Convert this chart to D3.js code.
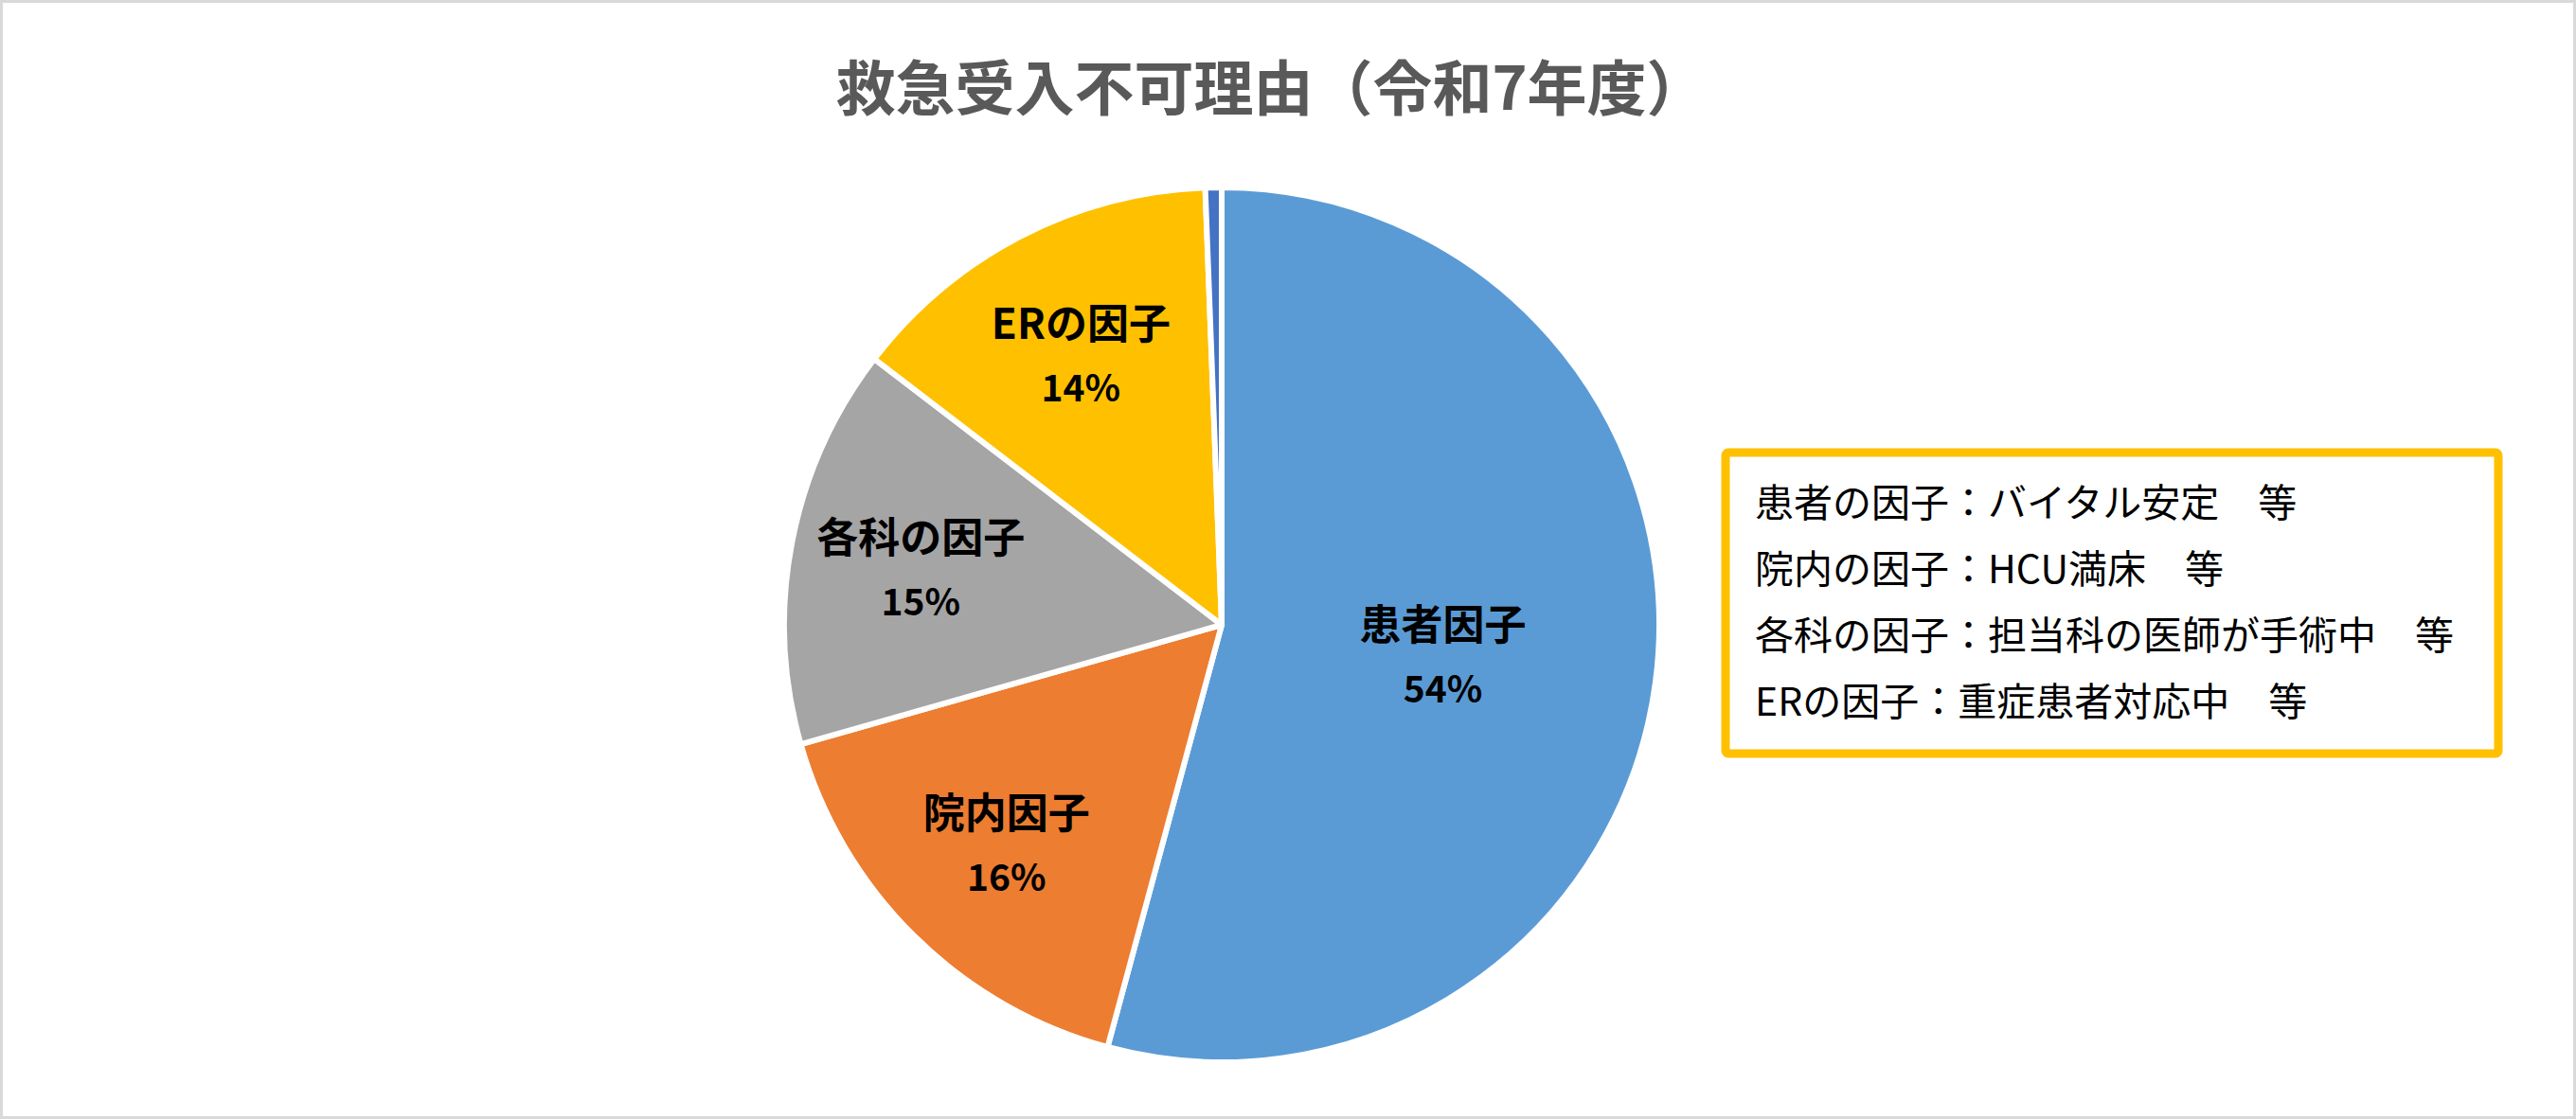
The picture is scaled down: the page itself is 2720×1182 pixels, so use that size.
<!DOCTYPE html>
<html>
<head>
<meta charset="utf-8">
<script src="https://cdn.jsdelivr.net/npm/d3@7"></script>
<style>
  html, body { margin: 0; padding: 0; background: #fff; }
  svg { display: block; }
  text { font-family: "Noto Sans CJK JP", "Noto Sans", sans-serif; }
</style>
</head>
<body>
<div class="chart"></div>
<script>
// 救急受入不可理由 (%)
const categories = ['患者因子', '院内因子', '各科の因子', 'ERの因子', 'その他']
const values = [54.2, 16.4, 14.8, 14.0, 0.6]
const colors = ['#5B9BD5', '#ED7D31', '#A5A5A5', '#FFC000', '#4472C4']
const notes = [
  '患者の因子：バイタル安定　等',
  '院内の因子：HCU満床　等',
  '各科の因子：担当科の医師が手術中　等',
  'ERの因子：重症患者対応中　等'
]
const title = '救急受入不可理由（令和7年度）'

const width = 2720
const height = 1182
const center = { x: 1290, y: 660 }
const radius = 462

const svg = d3.select('.chart')
  .append('svg')
  .attr('width', width)
  .attr('height', height)

// chart border
svg.append('rect')
  .attr('x', 1.5).attr('y', 1.5)
  .attr('width', width - 3).attr('height', height - 3)
  .attr('fill', '#fff')
  .attr('stroke', '#D9D9D9')
  .attr('stroke-width', 3)

svg.append('text')
  .text(title)
  .attr('x', 1342)
  .attr('y', 88)
  .attr('text-anchor', 'middle')
  .attr('dominant-baseline', 'central')
  .attr('font-size', 63)
  .attr('font-weight', 700)
  .attr('fill', '#595959')

const total = d3.sum(values)
const rows = categories.map((c, i) => ({ name: c, value: values[i], color: colors[i] }))

const pie = d3.pie().value((d) => d.value).sort(null)
const arc = d3.arc().innerRadius(0).outerRadius(radius)
const arcs = pie(rows)

const g = svg.append('g')
  .attr('transform', `translate(${center.x}, ${center.y})`)

g.selectAll('.slice')
  .data(arcs)
  .enter()
  .append('path')
  .attr('class', 'slice')
  .attr('d', arc)
  .attr('fill', (d) => d.data.color)
  .attr('stroke', '#fff')
  .attr('stroke-width', 6)
  .attr('stroke-linejoin', 'round')

// labels: the big slice sits closer to the center, like Excel's best fit
const labelArc = (d) => {
  const r = d.data.value > 50 ? radius * 0.51 : radius * 0.7
  return d3.arc().innerRadius(r).outerRadius(r).centroid(d)
}

const label = g.selectAll('.label')
  .data(arcs.filter((d) => d.data.value / total >= 0.05))
  .enter()
  .append('g')
  .attr('class', 'label')
  .attr('transform', (d) => `translate(${labelArc(d)})`)

label.append('text')
  .text((d) => d.data.name)
  .attr('y', -34)
  .attr('text-anchor', 'middle')
  .attr('dominant-baseline', 'central')
  .attr('font-size', 44)
  .attr('font-weight', 700)
  .attr('fill', '#000')

label.append('text')
  .text((d) => Math.round(d.data.value / total * 100) + '%')
  .attr('y', 34)
  .attr('text-anchor', 'middle')
  .attr('dominant-baseline', 'central')
  .attr('font-size', 39)
  .attr('font-weight', 700)
  .attr('fill', '#000')

// note box
const box = svg.append('g').attr('transform', 'translate(1822, 478)')
box.append('rect')
  .attr('width', 816)
  .attr('height', 318)
  .attr('fill', '#fff')
  .attr('stroke', '#FFC000')
  .attr('stroke-width', 9)
  .attr('rx', 3)

box.selectAll('.note')
  .data(notes)
  .enter()
  .append('text')
  .attr('class', 'note')
  .text((d) => d)
  .attr('x', 31)
  .attr('y', (d, i) => 50 + i * 70)
  .attr('dominant-baseline', 'central')
  .attr('font-size', 41)
  .attr('font-weight', 400)
  .attr('fill', '#000')
</script>
</body>
</html>
